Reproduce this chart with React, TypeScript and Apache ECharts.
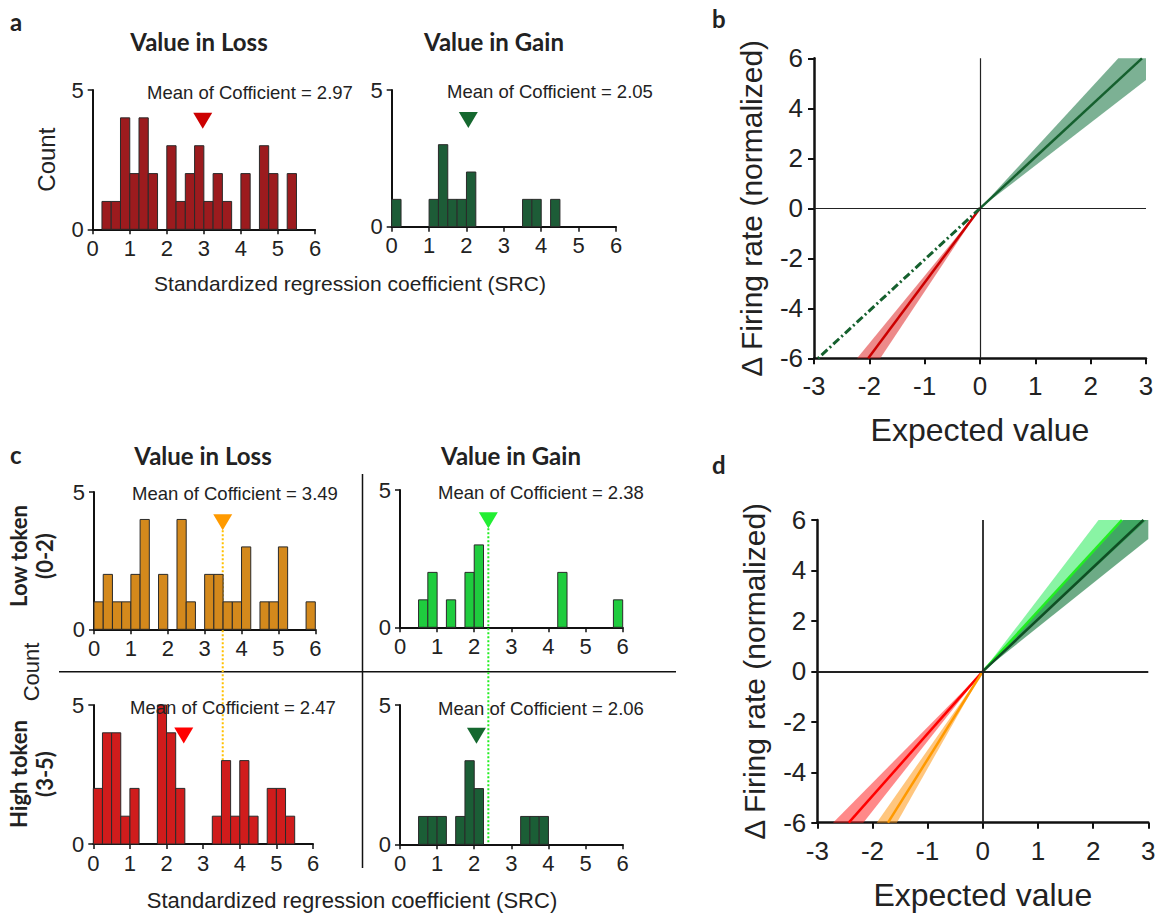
import React, { useEffect, useRef } from "react";
import * as echarts from "echarts";

// ---------- DATA ----------
const BIN = 0.25;
// counts per 0.25-wide bin from 0 to 6
const aLossCounts = [0, 1, 1, 4, 2, 4, 2, 0, 3, 1, 2, 3, 1, 2, 1, 0, 2, 0, 3, 2, 0, 2, 0, 0];
const aGainCounts = [1, 0, 0, 0, 1, 3, 1, 1, 2, 0, 0, 0, 0, 0, 1, 1, 0, 1, 0, 0, 0, 0, 0, 0];
const lowLossCounts = [1, 2, 1, 1, 2, 4, 0, 2, 0, 4, 1, 0, 2, 2, 1, 1, 3, 0, 1, 1, 3, 0, 0, 1];
const lowGainCounts = [0, 0, 1, 2, 0, 1, 0, 2, 3, 0, 0, 0, 0, 0, 0, 0, 0, 2, 0, 0, 0, 0, 0, 1];
const highLossCounts = [2, 4, 4, 1, 2, 0, 0, 5, 4, 2, 0, 0, 0, 1, 3, 1, 3, 1, 0, 2, 2, 1, 0, 0];
const highGainCounts = [0, 0, 1, 1, 1, 0, 1, 3, 2, 0, 0, 0, 0, 1, 1, 1, 0, 0, 0, 0, 0, 0, 0, 0];

const histMeans = [2.97, 2.05, 3.49, 2.38, 2.47, 2.06];
const histTickLabels = ["0", "1", "2", "3", "4", "5", "6"];

// regression slopes (mean, lower, upper); gain lines drawn for x>0, loss lines for x<0
const bGainLine = { slope: 2.05, lo: 1.71, hi: 2.4 };
const bLossLine = { slope: 2.97, lo: 2.7, hi: 3.33 };
const dLowGain = { slope: 2.38, lo: 2.02, hi: 2.86 };
const dHighGain = { slope: 2.06, lo: 1.75, hi: 2.36 };
const dHighLoss = { slope: 2.47, lo: 2.21, hi: 2.77 };
const dLowLoss = { slope: 3.49, lo: 3.12, hi: 3.85 };

// ---------- STYLE ----------
const SANS = "Liberation Sans, Arial, sans-serif";
const BOLD = "Lato, Open Sans, sans-serif";
const TXT = "#222";

const histGrids = [
  { left: 92.7, top: 90, width: 222.3, height: 139.3 },
  { left: 391.7, top: 90, width: 224.3, height: 136.7 },
  { left: 94, top: 492, width: 221.3, height: 137.3 },
  { left: 400, top: 490, width: 222.7, height: 137.3 },
  { left: 93.3, top: 705, width: 219.7, height: 139 },
  { left: 400, top: 705, width: 222.7, height: 139.3 },
];
const histFill = ["#9c1b1e", "#1d5c37", "#d4891c", "#1fcc3e", "#d01c1c", "#1b5e36"];
const triColor = ["#cc0000", "#15682f", "#ff9a00", "#22ee33", "#ff0000", "#15682f"];
const histCounts = [aLossCounts, aGainCounts, lowLossCounts, lowGainCounts, highLossCounts, highGainCounts];

const lineGrids = [
  { left: 814, top: 58.3, width: 332, height: 300 },
  { left: 817.3, top: 520, width: 331, height: 302.7 },
];

function bandPoints(lo: number, hi: number, s: number) {
  const pts: number[][] = [[0, 0]];
  const xHi = Math.min(3, 6 / hi);
  pts.push([s * xHi, s * hi * xHi]);
  if (6 / hi < 3) {
    if (6 / lo < 3) pts.push([(s * 6) / lo, s * 6]);
    else {
      pts.push([s * 3, s * 6]);
      pts.push([s * 3, s * 3 * lo]);
    }
  } else pts.push([s * 3, s * 3 * lo]);
  return pts;
}

function bandSeries(idx: number, l: { lo: number; hi: number }, s: number, fill: string) {
  return {
    type: "custom",
    xAxisIndex: idx,
    yAxisIndex: idx,
    data: [[l.lo, l.hi, s]],
    silent: true,
    renderItem: (params: any, api: any) => {
      const pts = bandPoints(api.value(0), api.value(1), api.value(2)).map((p) => api.coord(p));
      return { type: "polygon", shape: { points: pts }, style: { fill } };
    },
  };
}

function meanLine(idx: number, slope: number, s: number, color: string, width = 2.5, type: any = "solid") {
  const xEnd = Math.min(3, 6 / slope);
  return {
    type: "line",
    xAxisIndex: idx,
    yAxisIndex: idx,
    data: [
      [0, 0],
      [s * xEnd, s * slope * xEnd],
    ],
    symbol: "none",
    lineStyle: { color, width, type },
    silent: true,
  };
}

export default function App() {
  const ref = useRef<HTMLDivElement>(null);
  useEffect(() => {
    if (!ref.current) return;
    const chart = echarts.init(ref.current, undefined, { renderer: "svg" });

    const grids: any[] = [...histGrids, ...lineGrids].map((g) => ({ ...g, containLabel: false }));

    const xAxes: any[] = [];
    const yAxes: any[] = [];
    histGrids.forEach((_, i) => {
      xAxes.push({
        type: "value",
        gridIndex: i,
        min: 0,
        max: 6,
        interval: 1,
        axisLine: { show: true, onZero: false, lineStyle: { color: "#111", width: 2 } },
        axisTick: { show: true, length: 5, lineStyle: { color: "#111", width: 1.5 } },
        axisLabel: {
          show: true,
          fontFamily: SANS,
          fontSize: 22,
          color: TXT,
          margin: 8,
          formatter: (v: number) => histTickLabels[Math.round(v)],
        },
        splitLine: { show: false },
      });
      yAxes.push({
        type: "value",
        gridIndex: i,
        min: 0,
        max: 5,
        interval: 5,
        name: i === 0 ? "Count" : "",
        nameLocation: "middle",
        nameGap: 34,
        nameTextStyle: { fontFamily: SANS, fontSize: 24, color: TXT },
        axisLine: { show: true, lineStyle: { color: "#111", width: 2 } },
        axisTick: { show: true, length: 5, lineStyle: { color: "#111", width: 1.5 } },
        axisLabel: { show: true, fontFamily: SANS, fontSize: 22, color: TXT, margin: 9 },
        splitLine: { show: false },
      });
    });
    lineGrids.forEach((_, j) => {
      const gi = 6 + j;
      xAxes.push({
        type: "value",
        gridIndex: gi,
        min: -3,
        max: 3,
        interval: 1,
        name: "Expected value",
        nameLocation: "middle",
        nameGap: 56,
        nameTextStyle: { fontFamily: SANS, fontSize: 32, color: TXT },
        axisLine: { show: true, onZero: false, lineStyle: { color: "#111", width: 2.5 } },
        axisTick: { show: true, length: 6, lineStyle: { color: "#111", width: 2 } },
        axisLabel: { fontFamily: SANS, fontSize: 26, color: TXT, margin: 15 },
        splitLine: { show: false },
      });
      yAxes.push({
        type: "value",
        gridIndex: gi,
        min: -6,
        max: 6,
        interval: 2,
        name: "\u0394 Firing rate (normalized)",
        nameLocation: "middle",
        nameGap: 48,
        nameTextStyle: { fontFamily: SANS, fontSize: 30, color: TXT },
        axisLine: { show: true, onZero: false, lineStyle: { color: "#111", width: 2.5 } },
        axisTick: { show: true, length: 6, lineStyle: { color: "#111", width: 2 } },
        axisLabel: { fontFamily: SANS, fontSize: 26, color: TXT, margin: 11 },
        splitLine: { show: false },
      });
    });

    const series: any[] = [];
    histCounts.forEach((counts, i) => {
      series.push({
        type: "custom",
        xAxisIndex: i,
        yAxisIndex: i,
        silent: true,
        data: counts.map((c, k) => [k * BIN, (k + 1) * BIN, c]).filter((d) => d[2] > 0),
        encode: { x: [0, 1], y: 2 },
        renderItem: (params: any, api: any) => {
          const p0 = api.coord([api.value(0), api.value(2)]);
          const p1 = api.coord([api.value(1), 0]);
          return {
            type: "rect",
            shape: { x: p0[0], y: p0[1], width: p1[0] - p0[0], height: p1[1] - p0[1] },
            style: { fill: histFill[i], stroke: "#2a2a2a", lineWidth: 1 },
          };
        },
      });
    });
    histMeans.forEach((m, i) => {
      series.push({
        type: "scatter",
        xAxisIndex: i,
        yAxisIndex: i,
        data: [[m, 3.9]],
        symbol: "triangle",
        symbolRotate: 180,
        symbolSize: [19, 16],
        itemStyle: { color: triColor[i], opacity: 1 },
        silent: true,
        z: 5,
      });
    });

    const zeroMark = {
      silent: true,
      symbol: ["none", "none"],
      label: { show: false },
      lineStyle: { color: "#222", width: 1.2, type: "solid" },
      data: [{ xAxis: 0 }, { yAxis: 0 }],
    };

    // panel b
    series.push(bandSeries(6, bGainLine, 1, "rgba(30,120,70,0.58)"));
    series.push(bandSeries(6, bLossLine, -1, "rgba(225,60,60,0.6)"));
    series.push({ ...meanLine(6, bGainLine.slope, 1, "#15602e"), markLine: zeroMark });
    series.push(meanLine(6, bLossLine.slope, -1, "#cc0000"));
    series.push(meanLine(6, bGainLine.slope, -1, "#15602e", 3, [8, 3, 2, 3]));

    // panel d
    series.push(bandSeries(7, dLowGain, 1, "rgba(40,235,90,0.55)"));
    series.push(bandSeries(7, dHighGain, 1, "rgba(20,120,60,0.62)"));
    series.push(bandSeries(7, dHighLoss, -1, "rgba(255,40,40,0.55)"));
    series.push(bandSeries(7, dLowLoss, -1, "rgba(255,160,40,0.6)"));
    series.push({
      ...meanLine(7, dLowGain.slope, 1, "#22ee22"),
      markLine: { ...zeroMark, lineStyle: { color: "#222", width: 1.8, type: "solid" } },
    });
    series.push(meanLine(7, dHighGain.slope, 1, "#0f4f24"));
    series.push(meanLine(7, dHighLoss.slope, -1, "#ff0000"));
    series.push(meanLine(7, dLowLoss.slope, -1, "#ff9900"));

    const txt = (text: string, x: number, y: number, size: number, opts: any = {}) => ({
      type: "text",
      x,
      y,
      rotation: opts.rotation || 0,
      style: {
        text,
        fontFamily: opts.family || SANS,
        fontSize: size,
        fontWeight: opts.weight || "normal",
        fill: TXT,
        align: opts.align || "left",
        verticalAlign: "middle",
      },
      z: 10,
    });

    const graphics: any[] = [
      txt("a", 10, 21, 24, { family: BOLD, weight: "bold" }),
      txt("b", 712, 18, 24, { family: BOLD, weight: "bold" }),
      txt("c", 10, 454, 24, { family: BOLD, weight: "bold" }),
      txt("d", 712, 464, 24, { family: BOLD, weight: "bold" }),
      txt("Value in Loss", 199, 41, 24, { family: BOLD, weight: "bold", align: "center" }),
      txt("Value in Gain", 494, 41, 24, { family: BOLD, weight: "bold", align: "center" }),
      txt("Value in Loss", 203, 455, 24, { family: BOLD, weight: "bold", align: "center" }),
      txt("Value in Gain", 511, 455, 24, { family: BOLD, weight: "bold", align: "center" }),
      txt("Mean of Cofficient = 2.97", 147, 92, 18.5),
      txt("Mean of Cofficient = 2.05", 447, 91, 18.5),
      txt("Mean of Cofficient = 3.49", 132, 493, 18.5),
      txt("Mean of Cofficient = 2.38", 438, 492, 18.5),
      txt("Mean of Cofficient = 2.47", 130, 707, 18.5),
      txt("Mean of Cofficient = 2.06", 438, 708, 18.5),
      txt("Standardized regression coefficient (SRC)", 350, 283, 21, { align: "center" }),
      txt("Standardized regression coefficient (SRC)", 352, 900, 22, { align: "center" }),
      txt("Count", 31, 672, 22, { align: "center", rotation: Math.PI / 2 }),
      txt("Low token", 18, 556, 22, { family: BOLD, weight: "bold", align: "center", rotation: Math.PI / 2 }),
      txt("(0-2)", 44, 556, 22, { family: BOLD, weight: "bold", align: "center", rotation: Math.PI / 2 }),
      txt("High token", 18, 774, 22, { family: BOLD, weight: "bold", align: "center", rotation: Math.PI / 2 }),
      txt("(3-5)", 44, 774, 22, { family: BOLD, weight: "bold", align: "center", rotation: Math.PI / 2 }),
      { type: "line", shape: { x1: 59, y1: 671.7, x2: 676, y2: 671.7 }, style: { stroke: "#111", lineWidth: 1.5 } },
      { type: "line", shape: { x1: 362.5, y1: 474, x2: 362.5, y2: 868 }, style: { stroke: "#111", lineWidth: 1.5 } },
    ];

    chart.setOption({
      animation: false,
      backgroundColor: "#fff",
      grid: grids,
      xAxis: xAxes,
      yAxis: yAxes,
      series,
      graphic: graphics,
    });

    // dotted mean lines through low and high token panels
    const top1 = chart.convertToPixel({ xAxisIndex: 2, yAxisIndex: 2 } as any, [histMeans[2], 3.9]) as number[];
    const bot1 = chart.convertToPixel({ xAxisIndex: 4, yAxisIndex: 4 } as any, [histMeans[2], 0]) as number[];
    const top2 = chart.convertToPixel({ xAxisIndex: 3, yAxisIndex: 3 } as any, [histMeans[3], 3.9]) as number[];
    const bot2 = chart.convertToPixel({ xAxisIndex: 5, yAxisIndex: 5 } as any, [histMeans[3], 0]) as number[];
    chart.setOption({
      graphic: [
        ...graphics,
        {
          type: "line",
          shape: { x1: top1[0], y1: top1[1], x2: top1[0], y2: bot1[1] },
          style: { stroke: "#ffc000", lineWidth: 2, lineDash: [2, 2] },
          z: 1,
        },
        {
          type: "line",
          shape: { x1: top2[0], y1: top2[1], x2: top2[0], y2: bot2[1] },
          style: { stroke: "#22ee22", lineWidth: 2, lineDash: [2, 2] },
          z: 1,
        },
      ],
    });

    return () => chart.dispose();
  }, []);
  return (
    <div
      ref={ref}
      style={{ position: "absolute", left: 0, top: 0, width: 1160, height: 917, background: "#fff" }}
    />
  );
}
